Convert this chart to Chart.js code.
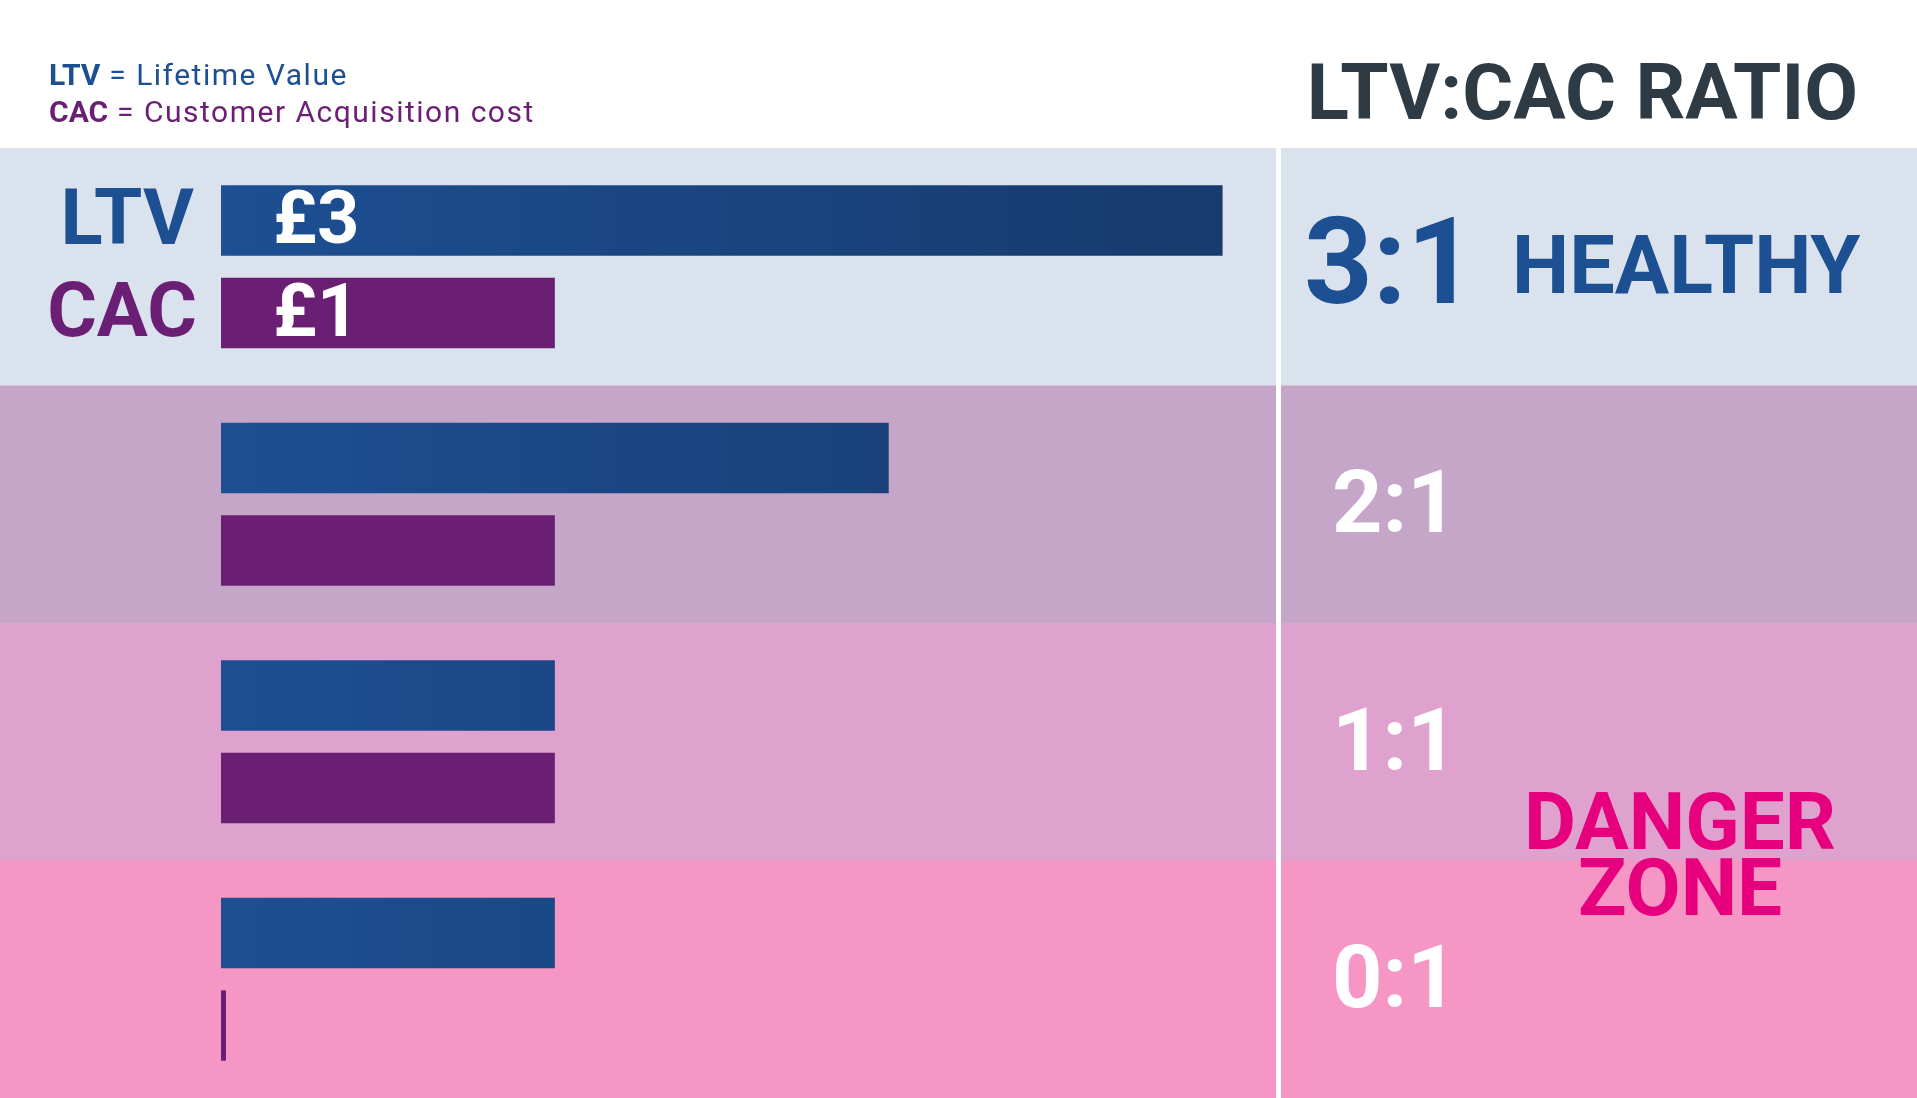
<!DOCTYPE html>
<html>
<head>
<meta charset="utf-8">
<script src="https://cdn.jsdelivr.net/npm/chart.js@4"></script>
<style>
html,body{margin:0;padding:0;background:#fff;overflow:hidden}
#wrap{width:1917px;height:1098px;position:relative}
</style>
</head>
<body>
<div id="wrap"><canvas id="myChart"></canvas></div>
<script>
/* LTV:CAC 비율 차트 */
let ratios = ['3:1', '2:1', '1:1', '0:1'];
let ltvValues = [3, 2, 1, 1];
let cacValues = [1, 1, 1, 0.015];
let ltvLabels = ['£3', '', '', ''];
let cacLabels = ['£1', '', '', ''];
let bandColors = ['#dae2ee', '#c5a5c8', '#dfa2cf', '#f596c4'];

const FONT = 'Roboto, "DejaVu Sans", sans-serif';

function blueGrad(context) {
    let chart = context.chart;
    let area = chart.chartArea;
    if (!area) return '#1d4f93';
    let x = chart.scales.x;
    let g = chart.ctx.createLinearGradient(x.getPixelForValue(0), 0, x.getPixelForValue(3), 0);
    g.addColorStop(0, '#1d4f93');
    g.addColorStop(1, '#163b6c');
    return g;
}

let bgPlugin = {
    id: 'bands',
    beforeDraw(chart) {
        let ctx = chart.ctx;
        let y = chart.scales.y;
        let half = (y.getPixelForValue(1) - y.getPixelForValue(0)) / 2;
        ctx.save();
        for (let i = 0; i < ratios.length; i++) {
            let c = y.getPixelForValue(i);
            ctx.fillStyle = bandColors[i];
            ctx.fillRect(0, c - half, chart.width, half * 2 + 1);
        }
        // 구분선
        ctx.fillStyle = '#ffffff';
        ctx.fillRect(1276, y.getPixelForValue(0) - half, 5, chart.height);
        ctx.restore();
    },
    afterDraw(chart) {
        let ctx = chart.ctx;
        let y = chart.scales.y;
        ctx.save();
        // 범례
        ctx.textBaseline = 'alphabetic';
        ctx.textAlign = 'left';
        ctx.font = 'bold 30px ' + FONT;
        ctx.fillStyle = '#1d4f93';
        ctx.fillText('LTV', 49, 85);
        let w = ctx.measureText('LTV').width;
        ctx.font = '30px ' + FONT;
        ctx.letterSpacing = '1.5px';
        ctx.fillText(' = Lifetime Value', 49 + w, 85);
        ctx.letterSpacing = '0px';
        ctx.font = 'bold 30px ' + FONT;
        ctx.fillStyle = '#6b1f74';
        ctx.fillText('CAC', 49, 122);
        w = ctx.measureText('CAC').width;
        ctx.font = '30px ' + FONT;
        ctx.letterSpacing = '1.5px';
        ctx.fillText(' = Customer Acquisition cost', 49 + w, 122);
        ctx.letterSpacing = '0px';
        // 제목
        ctx.textAlign = 'right';
        ctx.font = 'bold 78px ' + FONT;
        ctx.fillStyle = '#2e3b45';
        ctx.fillText('LTV:CAC RATIO', 1858, 119);

        // 막대 라벨
        let metaL = chart.getDatasetMeta(0);
        let metaC = chart.getDatasetMeta(1);
        ctx.textBaseline = 'middle';
        ctx.textAlign = 'right';
        ctx.font = 'bold 78px ' + FONT;
        ctx.fillStyle = '#1d4f93';
        ctx.fillText('LTV', 194, metaL.data[0].y + 4);
        ctx.font = 'bold 76px ' + FONT;
        ctx.fillStyle = '#6b1f74';
        ctx.fillText('CAC', 197, metaC.data[0].y + 4);
        ctx.textAlign = 'left';
        ctx.fillStyle = '#ffffff';
        ctx.font = 'bold 74px ' + FONT;
        for (let i = 0; i < ratios.length; i++) {
            if (ltvLabels[i]) ctx.fillText(ltvLabels[i], 273, metaL.data[i].y + 4);
            if (cacLabels[i]) ctx.fillText(cacLabels[i], 273, metaC.data[i].y + 4);
        }

        // 비율
        for (let i = 0; i < ratios.length; i++) {
            let c = y.getPixelForValue(i);
            if (i === 0) {
                ctx.fillStyle = '#1d4f93';
                ctx.font = 'bold 120px ' + FONT;
                ctx.fillText(ratios[i], 1304, c + 6);
                ctx.font = 'bold 81px ' + FONT;
                ctx.fillText('HEALTHY', 1512, c + 6);
            } else {
                ctx.fillStyle = '#ffffff';
                ctx.font = 'bold 88px ' + FONT;
                ctx.fillText(ratios[i], 1332, c + 6);
            }
        }
        ctx.textAlign = 'center';
        ctx.fillStyle = '#e6007e';
        ctx.font = 'bold 80px ' + FONT;
        let mid = (y.getPixelForValue(2) + y.getPixelForValue(3)) / 2;
        ctx.fillText('DANGER', 1680, mid - 32);
        ctx.fillText('ZONE', 1680, mid + 34);
        ctx.restore();
    }
};

let ctx = document.getElementById('myChart').getContext('2d');
let myChart = new Chart(ctx, {
    type: 'bar',
    data: {
        labels: ratios,
        datasets: [{
            label: 'LTV',
            data: ltvValues,
            backgroundColor: blueGrad,
            categoryPercentage: 0.78,
            barPercentage: 0.76
        }, {
            label: 'CAC',
            data: cacValues,
            backgroundColor: '#6b1f74',
            categoryPercentage: 0.78,
            barPercentage: 0.76
        }]
    },
    options: {
        indexAxis: 'y',
        responsive: true,
        maintainAspectRatio: false,
        animation: false,
        layout: {padding: {top: 148, left: 221, right: 0, bottom: 0}},
        scales: {
            x: {display: false, min: 0, max: 5.08},
            y: {display: false}
        },
        plugins: {
            legend: {display: false},
            tooltip: {enabled: false}
        }
    },
    plugins: [bgPlugin]
});
</script>
</body>
</html>
